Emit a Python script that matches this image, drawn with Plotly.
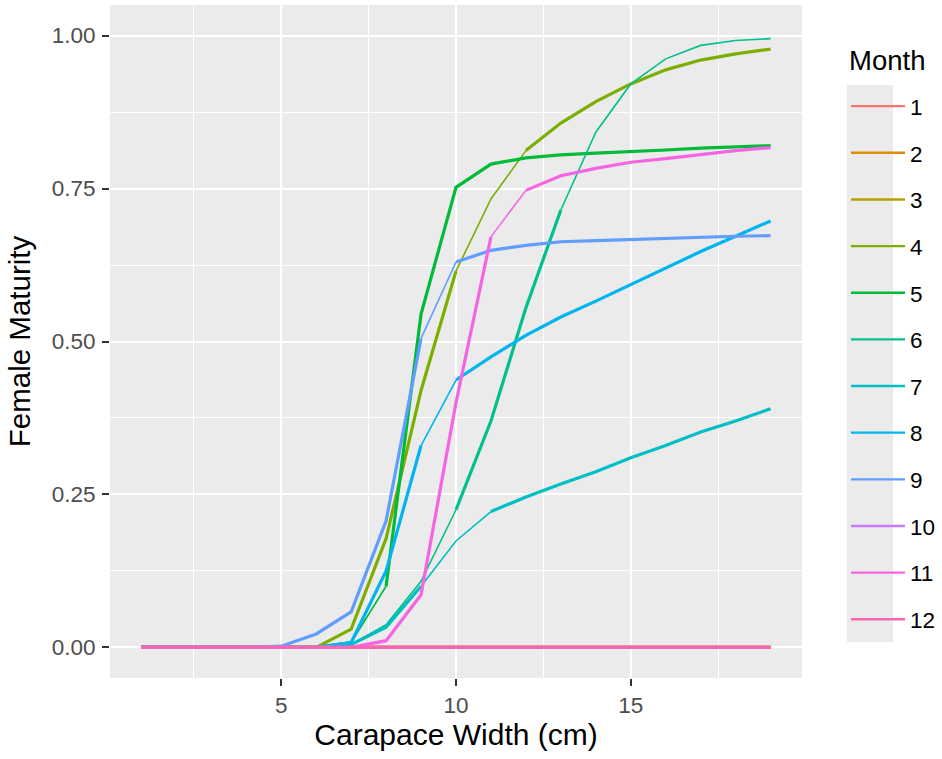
import plotly.graph_objects as go

# ---------------- data ----------------
width_cm = list(range(1, 20))
months = ["1", "2", "3", "4", "5", "6", "7", "8", "9", "10", "11", "12"]

m1 = [0.0] * 19
m2 = [0.0] * 19
m3 = [0.0] * 19
m4 = [0, 0, 0, 0, 0, 0, 0.030, 0.178, 0.420, 0.615, 0.733, 0.812, 0.857, 0.892, 0.921, 0.944, 0.960, 0.970, 0.978]
m5 = [0, 0, 0, 0, 0, 0, 0.008, 0.100, 0.545, 0.752, 0.790, 0.800, 0.805, 0.808, 0.810, 0.813, 0.816, 0.818, 0.820]
m6 = [0, 0, 0, 0, 0, 0, 0.005, 0.037, 0.108, 0.225, 0.370, 0.555, 0.715, 0.842, 0.921, 0.962, 0.984, 0.992, 0.995]
m7 = [0, 0, 0, 0, 0, 0, 0.005, 0.033, 0.100, 0.174, 0.222, 0.246, 0.267, 0.287, 0.310, 0.330, 0.352, 0.370, 0.390]
m8 = [0, 0, 0, 0, 0, 0, 0.008, 0.125, 0.330, 0.437, 0.475, 0.510, 0.540, 0.566, 0.593, 0.620, 0.647, 0.672, 0.697]
m9 = [0, 0, 0, 0, 0.002, 0.022, 0.058, 0.207, 0.505, 0.630, 0.649, 0.657, 0.663, 0.665, 0.667, 0.669, 0.671, 0.672, 0.673]
m10 = [0.0] * 19
m11 = [0, 0, 0, 0, 0, 0, 0, 0.011, 0.086, 0.400, 0.671, 0.747, 0.771, 0.783, 0.793, 0.799, 0.806, 0.812, 0.817]
m12 = [0.0] * 19
series = [m1, m2, m3, m4, m5, m6, m7, m8, m9, m10, m11, m12]

x_ticks = [5, 10, 15]
y_ticks = [0, 0.25, 0.5, 0.75, 1.0]
y_tick_labels = ["0.00", "0.25", "0.50", "0.75", "1.00"]

# ---------------- styles ----------------
colors = ["#F8766D", "#DE8C00", "#B79F00", "#7CAE00", "#00BA38", "#00C08B",
          "#00BFC4", "#00B4F0", "#619CFF", "#C77CFF", "#F564E3", "#FF64B0"]
THICK, THIN = 3.2, 1.6
# per-segment thickness code (18 segments between the 19 x positions): 1 = thick, 0 = thin
seg_all_thick = [1] * 18
seg_codes = {
    "4": [1] * 9 + [0, 0] + [1] * 7,
    "5": [1] * 6 + [0] + [1] * 11,
    "6": [0] * 9 + [1, 1, 1] + [0] * 6,
    "7": [1] * 8 + [0, 0] + [1] * 8,
    "8": [1] * 8 + [0] + [1] * 9,
    "9": [1] * 8 + [0] + [1] * 9,
    "11": [1] * 10 + [0] + [1] * 7,
}

FONT = "Liberation Sans, Arial, sans-serif"
L, R, T, B = 110, 140, 5, 81
W, H = 942, 759
PW, PH = W - L - R, H - T - B


def px_x(p):
    return (p - L) / PW


def px_y(p):
    return (H - B - p) / PH


fig = go.Figure()

# legend entries
for name, col in zip(months, colors):
    fig.add_trace(go.Scatter(x=[None], y=[None], mode="lines", name=name,
                             legendgroup=name, showlegend=True,
                             line=dict(color=col, width=2.4)))

# data lines, split into runs of equal thickness
for name, col, ys in zip(months, colors, series):
    codes = seg_codes.get(name, seg_all_thick)
    start = 0
    for i in range(1, len(codes) + 1):
        if i == len(codes) or codes[i] != codes[start]:
            xs = width_cm[start:i + 1]
            yv = ys[start:i + 1]
            fig.add_trace(go.Scatter(x=xs, y=yv, mode="lines", legendgroup=name,
                                     showlegend=False, hoverinfo="skip",
                                     line=dict(color=col, width=THICK if codes[start] else THIN)))
            start = i

fig.update_layout(
    width=W, height=H,
    margin=dict(l=L, r=R, t=T, b=B),
    paper_bgcolor="white",
    plot_bgcolor="#EBEBEB",
    font=dict(family=FONT, color="black"),
    legend=dict(
        font=dict(size=22.5, color="black"),
        xref="container", yref="container",
        x=846 / W, xanchor="left", y=1 - 85 / H, yanchor="top",
        maxheight=700,
        traceorder="grouped", tracegroupgap=14.4, itemwidth=54,
        bgcolor="rgba(0,0,0,0)",
    ),
    shapes=[dict(type="rect", xref="paper", yref="paper",
                 x0=px_x(847), x1=px_x(893), y0=px_y(642), y1=px_y(85),
                 fillcolor="#EBEBEB", line=dict(width=0), layer="below")],
    annotations=[dict(text="Month", xref="paper", yref="paper", x=px_x(847), y=px_y(60),
                      xanchor="left", yanchor="middle", showarrow=False,
                      font=dict(size=27.5, color="black"))],
)
fig.update_xaxes(
    range=[0.1, 19.9], tickmode="array", tickvals=x_ticks, ticktext=[str(v) for v in x_ticks],
    showgrid=True, gridcolor="white", gridwidth=2,
    minor=dict(tickvals=[2.5, 7.5, 12.5, 17.5], showgrid=True, gridcolor="white", gridwidth=1, ticks=""),
    ticks="outside", ticklen=7, tickwidth=2, tickcolor="#333333",
    tickfont=dict(size=22.5, color="#4D4D4D"), ticklabelstandoff=0,
    zeroline=False, showline=False, automargin=False,
    title=dict(text="Carapace Width (cm)", font=dict(size=30, color="black"), standoff=6),
)
fig.update_yaxes(
    range=[-0.05, 1.05], tickmode="array", tickvals=y_ticks, ticktext=y_tick_labels,
    showgrid=True, gridcolor="white", gridwidth=2,
    minor=dict(tickvals=[0.125, 0.375, 0.625, 0.875], showgrid=True, gridcolor="white", gridwidth=1, ticks=""),
    ticks="outside", ticklen=7, tickwidth=2, tickcolor="#333333",
    tickfont=dict(size=22.5, color="#4D4D4D"), ticklabelstandoff=2,
    zeroline=False, showline=False, automargin=False,
    title=dict(text="Female Maturity", font=dict(size=29.5, color="black"), standoff=12),
)

fig.write_html("out.html", config={"displayModeBar": False},
               post_script="document.body.style.margin='0';")
